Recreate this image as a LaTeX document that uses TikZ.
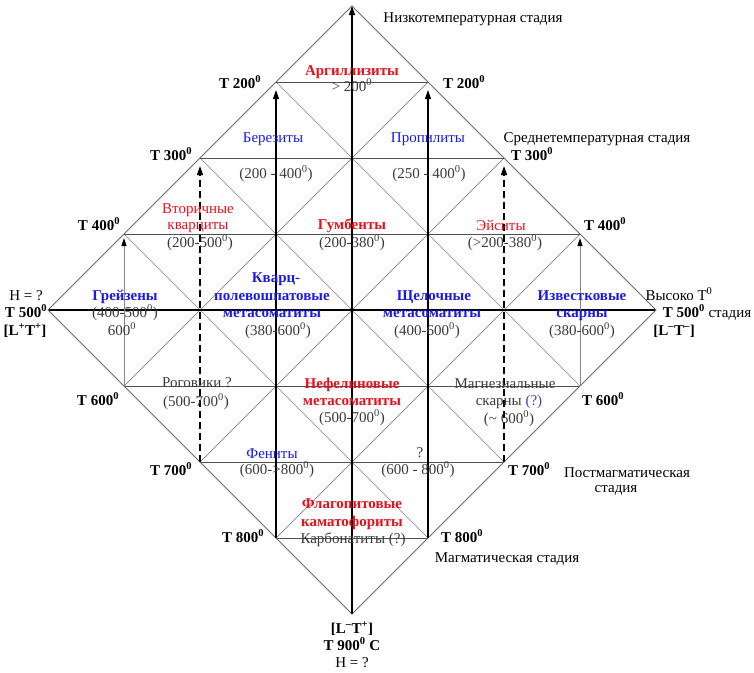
\documentclass[tikz,border=0pt]{standalone}
\usepackage{fontspec}
\setmainfont{Liberation Serif}
\usetikzlibrary{arrows.meta}
\definecolor{rd}{HTML}{E8101A}
\definecolor{bl}{HTML}{1A1AE6}
\definecolor{gt}{HTML}{3A3A3A}
\definecolor{hl}{HTML}{505050}
\definecolor{dl}{HTML}{858585}
\definecolor{el}{HTML}{6A6A6A}
\newcommand\mylab[5]{\node[lbl,#4] (#1) at (#2,#3) {#5};}
\newcommand\degr{\textsuperscript{0}}
\newcommand\supm{\textsuperscript{–}}
\newcommand\supp{\textsuperscript{+}}
\newcommand\fs{\fontsize{15}{17}\selectfont}
\begin{document}
\begin{tikzpicture}[x=1pt,y=-1pt,
  lbl/.style={anchor=base,inner sep=0pt,font=\fs},
  bb/.style={font=\fs\bfseries},
  red/.style={text=rd,font=\fs},
  redb/.style={text=rd,font=\fs\bfseries},
  blu/.style={text=bl,font=\fs},
  blub/.style={text=bl,font=\fs\bfseries},
  gry/.style={text=gt},
  edgeline/.style={draw=el,line width=0.9pt},
  hline/.style={draw=hl,line width=0.8pt},
  dline/.style={draw=dl,line width=0.7pt},
  mainline/.style={draw=black,line width=1.3pt},
  tip/.style={-{Triangle[length=9pt,width=6pt]}},
  vmain/.style={draw=black,line width=1.3pt,tip},
  vsolid/.style={draw=black,line width=1.2pt,tip,shorten >=8pt},
  vdash/.style={draw=black,line width=1.2pt,dash pattern=on 7pt off 4pt,tip,shorten >=8pt},
  vgray/.style={draw=dl,line width=0.8pt,-{Triangle[length=8pt,width=5pt,color=black]},shorten >=4pt}]
\useasboundingbox (0,0) rectangle (754,672);
\foreach \i in {-4,...,4} \foreach \j in {-4,...,4}
  \coordinate (p\i\j) at ({352+76*\i},{310-76*\j});
% diagonals
\draw[dline] (p-13) -- (p3-1);
\draw[dline] (p-22) -- (p2-2);
\draw[dline] (p-31) -- (p1-3);
\draw[dline] (p13) -- (p-3-1);
\draw[dline] (p22) -- (p-2-2);
\draw[dline] (p31) -- (p-1-3);
% horizontals
\foreach \j/\w in {3/1,2/2,1/3,-1/3,-2/2,-3/1}
  \draw[hline] (p-\w\j) -- (p\w\j);
\draw[mainline] (p-40) -- (p40);
% outline
\draw[edgeline] (p04) -- (p-40) -- (p0-4) -- (p40) -- cycle;
% verticals
\draw[vmain] (p0-4) -- (p04);
\draw[vsolid] (p-1-3) -- (p-13);
\draw[vsolid] (p1-3) -- (p13);
\draw[vdash] (p-2-2) -- (p-22);
\draw[vdash] (p2-2) -- (p22);
\draw[vgray] (p-3-1) -- (p-31);
\draw[vgray] (p3-1) -- (p31);
% labels
\mylab{lowst}{473}{22}{}{Низкотемпературная  стадия}
\mylab{argil}{352}{75}{redb}{Аргиллизиты}
\mylab{gt200}{352}{91}{gry}{> 200\degr}
\mylab{t200l}{240}{88}{bb}{T 200\degr}
\mylab{t200r}{464}{88}{bb}{T 200\degr}
\mylab{berez}{273}{142}{blu}{Березиты}
\mylab{propil}{428}{142}{blu}{Пропилиты}
\mylab{rberez}{276}{178}{gry}{(200 - 400\degr)}
\mylab{rpropil}{429}{178}{gry}{(250 - 400\degr)}
\mylab{midst}{597}{142}{}{Среднетемпературная  стадия}
\mylab{t300l}{171}{160}{bb}{T 300\degr}
\mylab{t300r}{532}{160}{bb}{T 300\degr}
\mylab{vtor1}{198}{213}{red}{Вторичные}
\mylab{vtor2}{198}{229}{red}{кварциты}
\mylab{rvtor}{200}{247}{gry}{(200-500\degr)}
\mylab{gumb}{352}{229}{redb}{Гумбенты}
\mylab{rgumb}{352}{247}{gry}{(200-380\degr)}
\mylab{eis}{501}{230}{red}{Эйситы}
\mylab{reis}{505}{247}{gry}{(>200-380\degr)}
\mylab{t400l}{99}{230}{bb}{T 400\degr}
\mylab{t400r}{605}{230}{bb}{T 400\degr}
\mylab{hl}{26}{300}{}{H = ?}
\mylab{t500l}{26}{317}{bb}{T 500\degr}
\mylab{ltl}{25}{335}{bb}{[L\supp T\supp]}
\mylab{greis}{125}{300}{blub}{Грейзены}
\mylab{rgreis}{125}{317}{gry}{(400-500\degr)}
\mylab{greis6}{122}{335}{gry}{600\degr}
\mylab{kv1}{276}{282}{blub}{Кварц-}
\mylab{kv2}{272}{300}{blub}{полевошпатовые}
\mylab{kv3}{272}{317}{blub}{метасоматиты}
\mylab{rkv}{278}{335}{gry}{(380-600\degr)}
\mylab{sh1}{434}{300}{blub}{Щелочные}
\mylab{sh2}{432}{317}{blub}{метасоматиты}
\mylab{rsh}{427}{335}{gry}{(400-600\degr)}
\mylab{iz1}{582}{300}{blub}{Известковые}
\mylab{iz2}{582}{317}{blub}{скарны}
\mylab{riz}{582}{335}{gry}{(380-600\degr)}
\mylab{vys}{679}{300}{}{Высоко T\degr}
\mylab{t500r}{707}{317}{}{\textbf{T 500\degr} стадия}
\mylab{ltr}{674}{335}{bb}{[L\supm T\supm]}
\mylab{rog}{197}{387}{gry}{Роговики ?}
\mylab{rrog}{196}{406}{gry}{(500-700\degr)}
\mylab{t600l}{98}{405}{bb}{T 600\degr}
\mylab{t600r}{603}{405}{bb}{T 600\degr}
\mylab{nef1}{352}{388}{redb}{Нефелиновые}
\mylab{nef2}{352}{405}{redb}{метасоматиты}
\mylab{rnef}{352}{422}{gry}{(500-700\degr)}
\mylab{mg1}{505}{388}{gry}{Магнезиальные}
\mylab{mg2}{509}{405}{gry}{скарны \textcolor{bl!60!gray}{(?)}}
\mylab{rmg}{509}{423}{gry}{(\textasciitilde\ 600\degr)}
\mylab{fen}{272}{458}{blu}{Фениты}
\mylab{rfen}{277}{474}{gry}{(600->800\degr)}
\mylab{qq}{420}{457}{gry}{?}
\mylab{rqq}{418}{474}{gry}{(600 - 800\degr)}
\mylab{t700l}{171}{475}{bb}{T 700\degr}
\mylab{t700r}{529}{475}{bb}{T 700\degr}
\mylab{post1}{627}{477}{}{Постмагматическая}
\mylab{post2}{616}{492}{}{стадия}
\mylab{fl1}{352}{508}{redb}{Флагопитовые}
\mylab{fl2}{352}{526}{redb}{каматофориты}
\mylab{karb}{353}{543}{gry}{Карбонатиты  (?)}
\mylab{t800l}{243}{542}{bb}{T 800\degr}
\mylab{t800r}{462}{542}{bb}{T 800\degr}
\mylab{magm}{507}{562}{}{Магматическая  стадия}
\mylab{ltb}{352}{633}{bb}{[L\supm T\supp]}
\mylab{t900}{352}{650}{bb}{T 900\degr\ C}
\mylab{hb}{352}{667}{}{H = ?}
\end{tikzpicture}
\end{document}
